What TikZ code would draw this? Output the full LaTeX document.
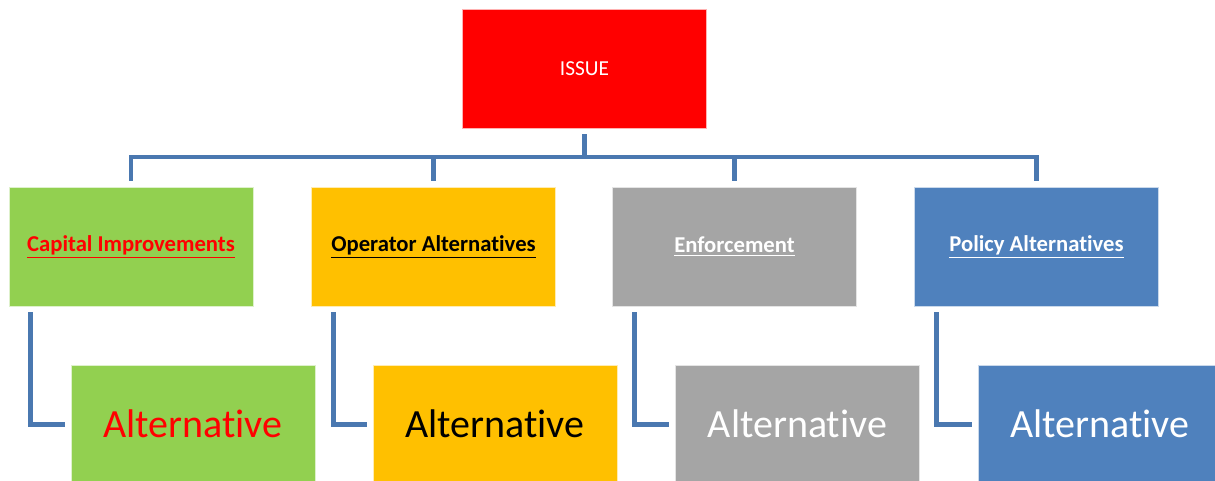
\documentclass[tikz,border=0pt]{standalone}
\usepackage{fontspec}
\setmainfont{Carlito}[Ligatures=NoCommon]
\definecolor{issuered}{HTML}{FF0000}
\definecolor{leafgreen}{HTML}{92D050}
\definecolor{amber}{HTML}{FFC000}
\definecolor{midgray}{HTML}{A5A5A5}
\definecolor{steel}{HTML}{4F81BD}
\definecolor{linkblue}{HTML}{4A78B0}
\begin{document}
\begin{tikzpicture}[x=0.75pt,y=-0.75pt,
  box/.style={rectangle,draw=white!70!#1,line width=0.4pt,fill=#1,inner sep=0pt,
    minimum width=183pt,minimum height=89.25pt},
  headtext/.style={font=\fontsize{17}{20}\selectfont\bfseries},
  alttext/.style={font=\fontsize{30}{36}\selectfont},
  conn/.style={draw=linkblue,line width=3.4pt,line cap=butt,line join=miter},
  gap/.style={shorten <=4.5pt,shorten >=4.5pt}]
\useasboundingbox (0,0) rectangle (1215,480);

% root
\node[box=issuered,text=white,font=\fontsize{16}{19}\selectfont] (issue) at (584.5,68.5) {ISSUE};

% categories
\node[box=leafgreen,headtext,text=red]   (c1) at (131,246.5)   {\underline{Capital Improvements}};
\node[box=amber,headtext,text=black]     (c2) at (433.5,246.5) {\underline{Operator Alternatives}};
\node[box=midgray,headtext,text=white]   (c3) at (734.5,246.5) {\underline{Enforcement}};
\node[box=steel,headtext,text=white]     (c4) at (1036.5,246.5){\underline{Policy Alternatives}};

% alternatives
\node[box=leafgreen,alttext,text=red]  (a1) at (193,424.5)  {\raisebox{2pt}{Alternative}};
\node[box=amber,alttext,text=black]    (a2) at (495,424.5)  {\raisebox{2pt}{Alternative}};
\node[box=midgray,alttext,text=white]  (a3) at (797.5,424.5){\raisebox{2pt}{Alternative}};
\node[box=steel,alttext,text=white]    (a4) at (1100,424.5) {\raisebox{2pt}{Alternative}};

% tree connectors
\coordinate (bus) at (0,157);
\draw[conn,shorten <=4.5pt] (issue.south) -- (issue.south |- bus);
\draw[conn,line cap=rect] (c1.north |- bus) -- (c4.north |- bus);
\foreach \c in {c1,c2,c3,c4}
  \draw[conn,shorten >=4.5pt] (\c.north |- bus) -- (\c.north);

% elbow connectors
\foreach \c/\a in {c1/a1,c2/a2,c3/a3,c4/a4}
  \draw[conn,gap] ([xshift=16.5pt]\c.south west) |- (\a.west);
\end{tikzpicture}
\end{document}
